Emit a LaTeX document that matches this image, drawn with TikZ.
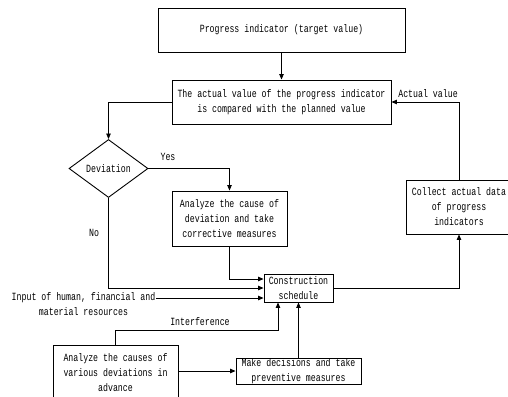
\documentclass[tikz,border=0pt]{standalone}
\usepackage{fontspec}
\setmainfont{Liberation Mono}[FakeStretch=0.75]
\usetikzlibrary{shapes.geometric,arrows.meta}
\begin{document}
\begin{tikzpicture}[x=1pt,y=-1pt,
  every node/.style={font=\fontsize{11}{15}\selectfont, inner sep=0pt},
  box/.style={draw, line width=0.9pt, align=center},
  conn/.style={line width=0.8pt},
  arr/.style={conn, -{Triangle[length=5.5pt,width=4.5pt]}},
  lbl/.style={align=center}]
\useasboundingbox (0,0) rectangle (508,396);
\node[box, minimum width=247, minimum height=44] (top) at (281.5,30) {Progress indicator (target value)};
\node[box, minimum width=219, minimum height=44] (cmp) at (281.5,102) {The actual value of the progress indicator\\is compared with the planned value};
\node[draw, diamond, line width=0.9pt, minimum width=79, minimum height=58] (dev) at (108.5,168.5) {Deviation};
\node[box, minimum width=115, minimum height=55] (ana) at (229.5,218.5) {Analyze the cause of\\deviation and take\\corrective measures};
\node[box, minimum width=106, minimum height=54] (col) at (459,207) {Collect actual data\\of progress\\indicators};
\node[box, minimum width=69, minimum height=28] (cs) at (298.5,288) {Construction\\schedule};
\node[box, minimum width=125, minimum height=56] (adv) at (115.5,373) {Analyze the causes of\\various deviations in\\advance};
\node[box, minimum width=125, minimum height=26] (mk) at (298.5,371) {Make decisions and take\\preventive measures};
\node[lbl] (inp) at (83.5,304.5) {Input of human, financial and\\material resources};
\coordinate (inpend) at (156,298);
\node (yes) at (168,157) {Yes};
\node (no) at (94,233) {No};
\node (act) at (428,94) {Actual value};
\node (intf) at (200,322) {Interference};

\draw[arr] (top.south) -- (cmp.north);
\draw[arr] (cmp.west) -| (dev.north);
\draw[arr] (dev.east) -| (ana.north);
\draw[arr] (dev.south) |- (cs.west);
\draw[arr] (ana.south) |- ([yshift=9pt]cs.west);
\draw[arr] (inpend) -- ([yshift=-10pt]cs.west);
\draw[arr] (cs.east) -| (col.south);
\draw[arr] (col.north) |- (cmp.east);
\draw[arr] (adv.north) -- ++(0,-14) -| ([xshift=-20.5pt]cs.south);
\draw[arr] (adv.east |- mk.west) -- (mk.west);
\draw[arr] (mk.north) -- (cs.south);
\end{tikzpicture}
\end{document}
